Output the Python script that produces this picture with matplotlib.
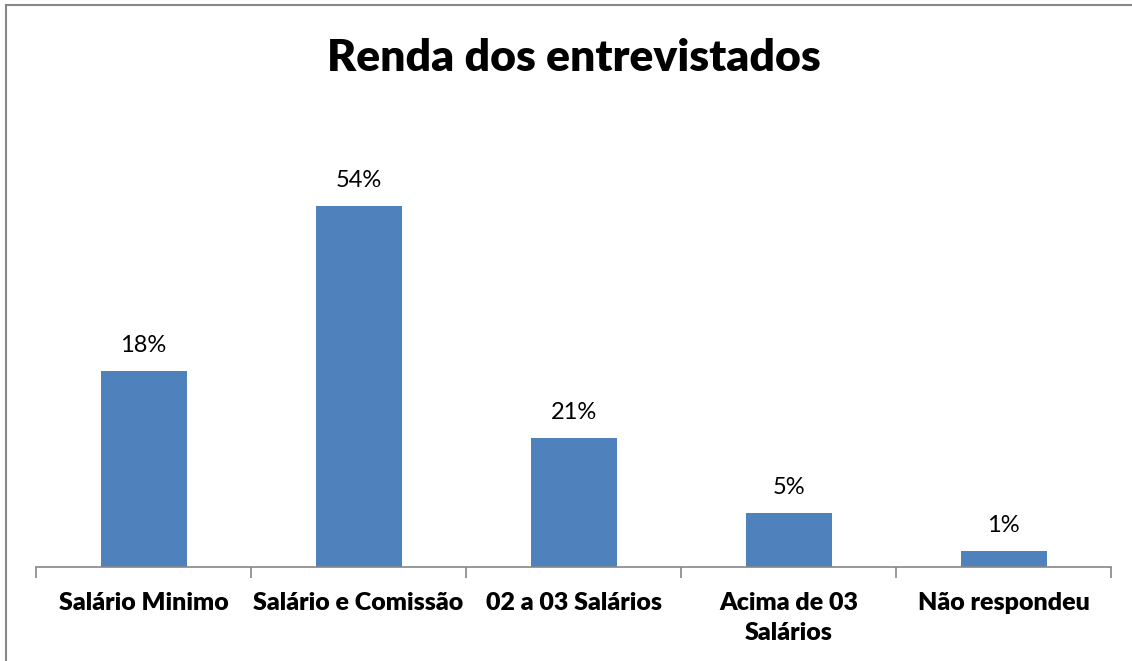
import numpy as np
import matplotlib
matplotlib.use("Agg")
from matplotlib import pyplot as plt
from matplotlib.lines import Line2D

# Chart data
categories = ["Salário Minimo", "Salário e Comissão", "02 a 03 Salários",
              "Acima de 03\nSalários", "Não respondeu"]
bar_values = [29.3, 54.0, 19.3, 8.0, 2.3]   # bar heights as drawn in the picture
value_labels = ["18%", "54%", "21%", "5%", "1%"]

plt.rcParams['font.family'] = ['Lato', 'DejaVu Sans']

W, H = 1132, 661
fig = plt.figure(figsize=(W / 100, H / 100), dpi=100)

# plot area in pixels: x 36..1111, baseline at y=566.5
left, right = 36, 1111
bottom_px, top_px = 566.5, 160
ax = fig.add_axes([left / W, (H - bottom_px) / H, (right - left) / W, (bottom_px - top_px) / H])

x = np.arange(len(categories))
bars = ax.bar(x, bar_values, width=0.4, color='#4f81bd', zorder=2)

ax.set_xlim(-0.5, len(categories) - 0.5)
ax.set_ylim(0, 54.0 * (bottom_px - top_px) / 360)

for spine in ['top', 'right', 'left']:
    ax.spines[spine].set_visible(False)
ax.spines['bottom'].set_color('#868686')
ax.spines['bottom'].set_linewidth(1.2)
ax.set_yticks([])

# category ticks at the boundaries
ax.set_xticks(np.arange(len(categories) + 1) - 0.5)
ax.set_xticklabels([])
ax.tick_params(axis='x', length=8, width=1.2, color='#868686', direction='out')

for xi, name in zip(x, categories):
    ax.annotate(name, (xi, 0), xytext=(0, -18), textcoords='offset points',
                ha='center', va='top', fontsize=18, fontweight='heavy',
                color='black', linespacing=1.5, annotation_clip=False)

for rect, lab in zip(bars, value_labels):
    ax.annotate(lab, (rect.get_x() + rect.get_width() / 2, rect.get_height()),
                xytext=(0, 11), textcoords='offset points',
                ha='center', va='bottom', fontsize=17, color='black')

fig.text((left + right) / 2 / W, 1 - 58 / H, "Renda dos entrevistados",
         ha='center', va='center', fontsize=32, fontweight='heavy')

# outer border (only top and left visible in the crop)
fig.add_artist(Line2D([5.5 / W, 5.5 / W], [0, 1 - 4.5 / H], transform=fig.transFigure,
                      color='#888888', linewidth=1.5))
fig.add_artist(Line2D([5.5 / W, 1], [1 - 4.5 / H, 1 - 4.5 / H], transform=fig.transFigure,
                      color='#888888', linewidth=1.5))

fig.savefig("out.png", dpi=100, facecolor='white')
